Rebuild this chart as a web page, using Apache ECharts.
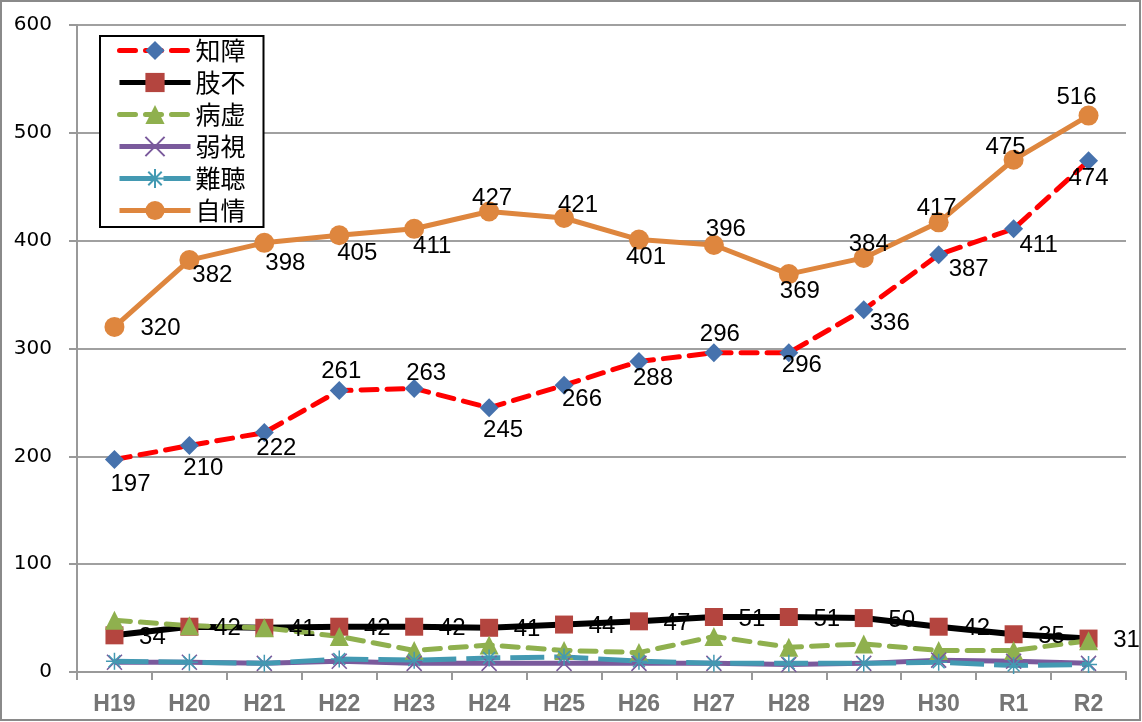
<!DOCTYPE html>
<html><head><meta charset="utf-8">
<script src="https://cdn.jsdelivr.net/npm/echarts@6/dist/echarts.min.js"></script>
<style>html,body{margin:0;padding:0;background:#fff}#c{width:1142px;height:722px}</style>
</head><body><div id="c"></div>
<script>
const categories = ['H19','H20','H21','H22','H23','H24','H25','H26','H27','H28','H29','H30','R1','R2'];
const chishou = [197,210,222,261,263,245,266,288,296,296,336,387,411,474];
const shifu   = [34,42,41,42,42,41,44,47,51,51,50,42,35,31];
const byokyo  = [48,43,41,33,20,25,20,18,33,23,26,20,20,29];
const jakushi = [9,9,8,10,8,8,8,8,8,7,8,11,10,8];
const nanchou = [10,9,8,12,11,13,14,10,8,8,8,9,6,7];
const jijou   = [320,382,398,405,411,427,421,401,396,369,384,417,475,516];
const yTicks = [0,100,200,300,400,500,600];

// label placement (layout only)
const chishouLabelOffset = [[16,25],[14,23],[12,16],[2,-19],[12,-15],[14,23],[18,14],[14,17],[6,-18],[13,13],[26,14],[30,15],[25,17],[0,18]];
const jijouLabelOffset = [[46,1],[23,15],[21,21],[18,18],[18,18],[3,-13],[14,-13],[7,18],[12,-16],[11,17],[5,-14],[-2,-14],[-8,-12],[-12,-18]];
const shifuLabelOffset = [38,2];

const labelFont = {fontFamily:'Liberation Sans', fontSize:24, color:'#000', textBorderWidth:0};
function withOffsets(vals, offs){
  return vals.map((v,i)=>({value:v, label:{offset: Array.isArray(offs[0]) ? offs[i] : offs}}));
}

const chart = echarts.init(document.getElementById('c'), null, {renderer:'canvas'});
chart.setOption({
  animation:false,
  backgroundColor:'#fff',
  graphic:[{type:'rect', shape:{x:1,y:1,width:1139,height:719}, style:{fill:'none', stroke:'#8a8a8a', lineWidth:2}, silent:true}],
  grid:{left:77, right:16, top:25, bottom:50},
  legend:{
    orient:'vertical', left:100, top:36,
    backgroundColor:'#fff', borderColor:'#000', borderWidth:2, borderRadius:0,
    padding:[2,18,4,17], itemWidth:71, itemHeight:24, itemGap:7,
    lineStyle:{width:5},
    textStyle:{fontFamily:'Noto Sans CJK JP', fontSize:25, color:'#000', lineHeight:24},
    data:['知障','肢不','病虚','弱視','難聴','自情']
  },
  xAxis:{
    type:'category', data:categories, boundaryGap:true,
    axisLine:{lineStyle:{color:'#999', width:2}},
    axisTick:{show:true, length:8, lineStyle:{color:'#999', width:2}},
    axisLabel:{margin:21, fontFamily:'Liberation Sans', fontWeight:'bold', fontSize:23, color:'#757575'}
  },
  yAxis:{
    type:'value', min:yTicks[0], max:yTicks[yTicks.length-1], interval:100,
    axisLine:{show:true, lineStyle:{color:'#999', width:2}},
    axisTick:{show:true, length:8, inside:false, lineStyle:{color:'#999', width:2}},
    splitLine:{lineStyle:{color:'#a0a0a0', width:2}},
    axisLabel:{margin:25, fontFamily:'DejaVu Sans', fontSize:20, color:'#000'}
  },
  series:[
    {name:'知障', type:'line', data:withOffsets(chishou, chishouLabelOffset),
     symbol:'diamond', symbolSize:19,
     lineStyle:{color:'#ff0000', width:5, type:[16,10], cap:'round'},
     itemStyle:{color:'#4672ad'},
     label:Object.assign({show:true, position:'inside'}, labelFont)},
    {name:'肢不', type:'line', data:withOffsets(shifu, shifuLabelOffset),
     symbol:'rect', symbolSize:18,
     lineStyle:{color:'#000', width:6},
     itemStyle:{color:'#b4453f'},
     label:Object.assign({show:true, position:'inside'}, labelFont)},
    {name:'病虚', type:'line', data:byokyo,
     symbol:'triangle', symbolSize:19,
     lineStyle:{color:'#8fb04e', width:5, type:[16,10], cap:'round'},
     itemStyle:{color:'#8fb04e'}},
    {name:'弱視', type:'line', data:jakushi,
     symbol:'path://M0,0L10,10M10,0L0,10', symbolSize:15,
     lineStyle:{color:'#7a5a9c', width:5},
     itemStyle:{color:'#7a5a9c', borderColor:'#7a5a9c', borderWidth:1.5}},
    {name:'難聴', type:'line', data:nanchou,
     symbol:'path://M5,0L5,10M0,5L10,5M1.5,1.5L8.5,8.5M8.5,1.5L1.5,8.5', symbolSize:17,
     lineStyle:{color:'#4399b2', width:5, type:[34,10]},
     itemStyle:{color:'#4399b2', borderColor:'#4399b2', borderWidth:1.5}},
    {name:'自情', type:'line', data:withOffsets(jijou, jijouLabelOffset),
     symbol:'circle', symbolSize:20,
     lineStyle:{color:'#de863e', width:5},
     itemStyle:{color:'#de863e'},
     label:Object.assign({show:true, position:'inside'}, labelFont)}
  ]
});
</script></body></html>
